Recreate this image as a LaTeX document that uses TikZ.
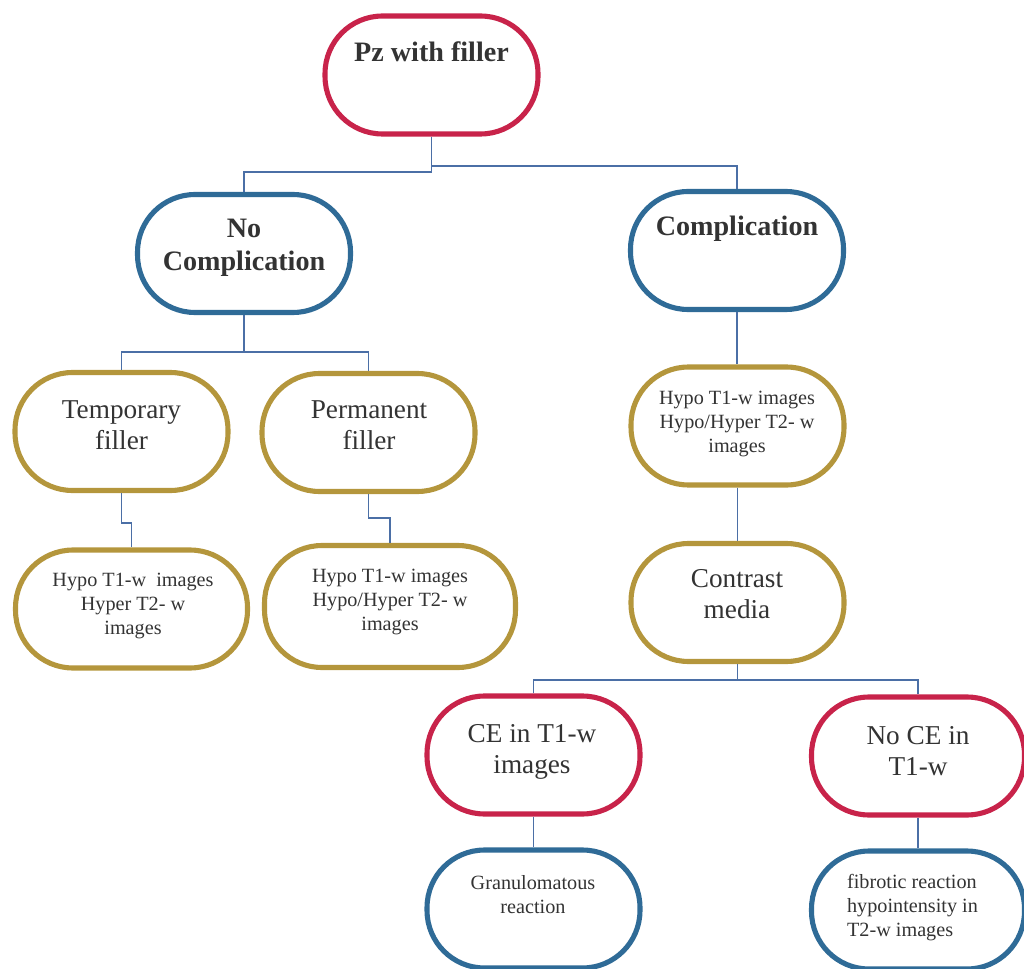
\documentclass[tikz,border=0pt]{standalone}
\usepackage{fontspec}
\setmainfont{Liberation Serif}
\definecolor{cred}{HTML}{C8234A}
\definecolor{cblue}{HTML}{2F6B97}
\definecolor{cgold}{HTML}{B4963C}
\definecolor{cline}{HTML}{4B6FA6}
\definecolor{ctext}{HTML}{333333}
\begin{document}
\begin{tikzpicture}[x=0.02cm,y=-0.02cm,
  box/.style={draw=#1, line width=2.9pt, rounded corners=1.15cm, fill=white,
    inner sep=0pt, minimum width=4.26cm, minimum height=2.36cm},
  conn/.style={draw=cline, line width=0.9pt},
  bigb/.style={font=\fontsize{16}{18.7}\selectfont\bfseries, text=ctext, align=center, inner sep=0pt},
  big/.style={font=\fontsize{15.5}{17.6}\selectfont, text=ctext, align=center, inner sep=0pt},
  small/.style={font=\fontsize{11.5}{13.9}\selectfont, text=ctext, align=center, inner sep=0pt}]
\useasboundingbox (0,0) rectangle (1024,969);

% connector junctions
\coordinate (jL) at (431.5,172);
\coordinate (jR) at (431.5,166);
\coordinate (j2) at (245,352);
\coordinate (j3) at (121.5,523);
\coordinate (j4) at (368.5,518);
\coordinate (j5) at (737.5,680);

% boxes
\node[box=cred] (pz) at (431.5,75) {};
\node[box=cblue] (nocomp) at (244,253.5) {};
\node[box=cblue] (comp) at (737,250.5) {};
\node[box=cgold] (temp) at (121.5,431.5) {};
\node[box=cgold] (perm) at (368.5,432.5) {};
\node[box=cgold, minimum width=4.64cm] (hypol) at (131.5,609) {};
\node[box=cgold, minimum width=5.02cm, minimum height=2.44cm] (hypom) at (390,606.5) {};
\node[box=cgold] (hypor) at (737.5,426) {};
\node[box=cgold] (contrast) at (737.5,602.5) {};
\node[box=cred] (ce) at (533.5,755) {};
\node[box=cred] (noce) at (918,756) {};
\node[box=cblue] (gran) at (533.5,909) {};
\node[box=cblue] (fib) at (918,910) {};

\draw[conn] (pz.south) -- (jL) -| (nocomp.north);
\draw[conn] (jR) -| (comp.north);
\draw[conn] (nocomp.south) -- (nocomp.south |- j2);
\draw[conn] (temp.north) |- (j2) -| (perm.north);
\draw[conn] (temp.south) -- (j3) -| (hypol.north);
\draw[conn] (perm.south) -- (j4) -| (hypom.north);
\draw[conn] (comp.south) -- (comp.south |- hypor.north);
\draw[conn] (hypor.south) -- (contrast.north);
\draw[conn] (contrast.south) -- (j5);
\draw[conn] (ce.north) |- (j5) -| (noce.north);
\draw[conn] (ce.south) -- (gran.north);
\draw[conn] (noce.south) -- (fib.north);

% texts
\node[bigb] (tpz) at (431.5,52) {Pz with filler};
\node[bigb] (tnocomp) at (244,247.5) {No\\Complication};
\node[bigb] (tcomp) at (737,229) {Complication};
\node[big] (ttemp) at (121.5,425.5) {Temporary\\filler};
\node[big] (tperm) at (369,425.5) {Permanent\\filler};
\node[small] (thypol) at (133,606) {Hypo T1-w\ \ images\\Hyper T2- w\\images};
\node[small] (thypom) at (390,602) {Hypo T1-w images\\Hypo/Hyper T2- w\\images};
\node[small] (thypor) at (737,424) {Hypo T1-w images\\Hypo/Hyper T2- w\\images};
\node[big] (tcontrast) at (737,594.5) {Contrast\\media};
\node[big] (tce) at (532,751.5) {CE in T1-w\\images};
\node[big] (tnoce) at (918,751.5) {No CE in\\T1-w};
\node[small] (tgran) at (533,894.5) {Granulomatous\\reaction};
\node[small, align=left] (tfib) at (912.5,907.5) {fibrotic reaction\\hypointensity in\\T2-w images};
\end{tikzpicture}
\end{document}
